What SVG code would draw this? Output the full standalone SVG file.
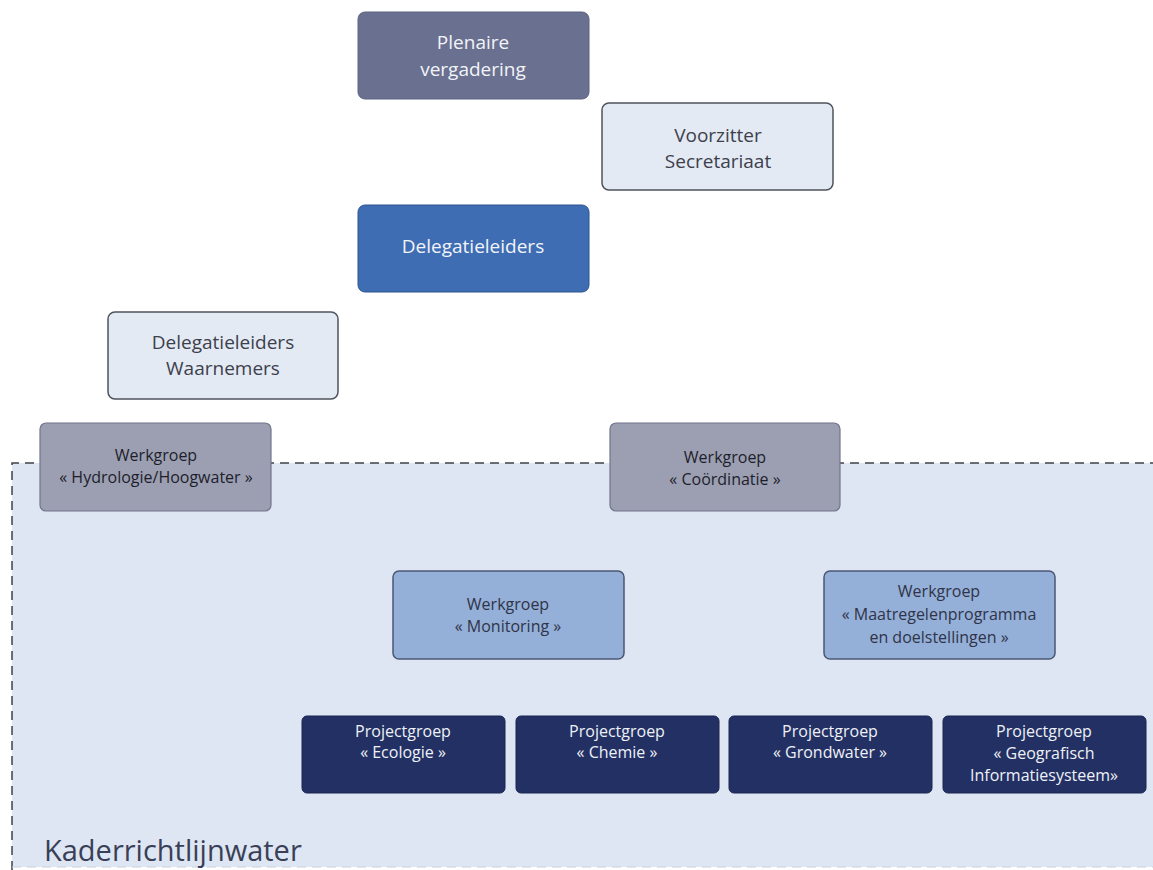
<svg xmlns="http://www.w3.org/2000/svg" width="1153" height="870" viewBox="0 0 1153 870">
<style>
text{font-family:"Open Sans","Liberation Sans",sans-serif;text-anchor:middle}
.plen{fill:#6a7090;stroke:#5d6482;stroke-width:1}
.light{fill:#e3eaf4;stroke:#50535c;stroke-width:1.5}
.del{fill:#3e6db4;stroke:#2d548f;stroke-width:1}
.wgray{fill:#9c9eb2;stroke:#72758a;stroke-width:1.2}
.wblue{fill:#94afd8;stroke:#4b5774;stroke-width:1.5}
.proj{fill:#233063;stroke:#1b2550;stroke-width:1}
.tw{fill:#f2f4f8;font-size:19px}
.td{fill:#3d404c;font-size:19px}
.ts{fill:#1c1f2b;font-size:16px}
.tb{fill:#2f3448;font-size:16px}
.tp{fill:#eef1f7;font-size:16px}
</style>
<rect x="0" y="0" width="1153" height="870" fill="#ffffff"/>
<g id="region">
<rect x="12" y="463" width="1160" height="404" fill="#dde6f2" stroke="none"/>
<path d="M12 870 V463 H1153" fill="none" stroke="#3f4249" stroke-width="1.5" stroke-dasharray="9 6"/>
<path d="M12 867 H1153" fill="none" stroke="#c9d2de" stroke-width="1" stroke-dasharray="9 6"/>
<text x="44" y="861" style="text-anchor:start;font-size:29px;fill:#3a3f58">Kaderrichtlijnwater</text>
</g>
<g id="connectors"></g>
<g id="plenaire">
<rect class="plen" x="358" y="12" width="231" height="87" rx="7"/>
<text class="tw" x="473" y="49">Plenaire</text>
<text class="tw" x="473" y="76">vergadering</text>
</g>
<g id="voorzitter">
<rect class="light" x="602" y="103" width="231" height="87" rx="7"/>
<text class="td" x="718" y="142">Voorzitter</text>
<text class="td" x="718" y="168">Secretariaat</text>
</g>
<g id="delegatieleiders">
<rect class="del" x="358" y="205" width="231" height="87" rx="7"/>
<text class="tw" x="473" y="253">Delegatieleiders</text>
</g>
<g id="waarnemers">
<rect class="light" x="108" y="312" width="230" height="87" rx="7"/>
<text class="td" x="223" y="349">Delegatieleiders</text>
<text class="td" x="223" y="375">Waarnemers</text>
</g>
<g id="hydrologie">
<rect class="wgray" x="40" y="423" width="231" height="88" rx="6"/>
<text class="ts" x="156" y="461">Werkgroep</text>
<text class="ts" x="156" y="483">« Hydrologie/Hoogwater »</text>
</g>
<g id="coordinatie">
<rect class="wgray" x="610" y="423" width="230" height="88" rx="6"/>
<text class="ts" x="725" y="463">Werkgroep</text>
<text class="ts" x="725" y="485">« Coördinatie »</text>
</g>
<g id="monitoring">
<rect class="wblue" x="393" y="571" width="231" height="88" rx="6"/>
<text class="tb" x="508" y="610">Werkgroep</text>
<text class="tb" x="508" y="632">« Monitoring »</text>
</g>
<g id="maatregelen">
<rect class="wblue" x="824" y="571" width="231" height="88" rx="6"/>
<text class="tb" x="939" y="597">Werkgroep</text>
<text class="tb" x="939" y="620">« Maatregelenprogramma</text>
<text class="tb" x="939" y="643">en doelstellingen »</text>
</g>
<g id="ecologie">
<rect class="proj" x="302" y="716" width="203" height="77" rx="5"/>
<text class="tp" x="403" y="737">Projectgroep</text>
<text class="tp" x="403" y="758">« Ecologie »</text>
</g>
<g id="chemie">
<rect class="proj" x="516" y="716" width="203" height="77" rx="5"/>
<text class="tp" x="617" y="737">Projectgroep</text>
<text class="tp" x="617" y="758">« Chemie »</text>
</g>
<g id="grondwater">
<rect class="proj" x="729" y="716" width="203" height="77" rx="5"/>
<text class="tp" x="830" y="737">Projectgroep</text>
<text class="tp" x="830" y="758">« Grondwater »</text>
</g>
<g id="geografisch">
<rect class="proj" x="943" y="716" width="203" height="77" rx="5"/>
<text class="tp" x="1044" y="737">Projectgroep</text>
<text class="tp" x="1044" y="759">« Geografisch</text>
<text class="tp" x="1044" y="781">Informatiesysteem»</text>
</g>
</svg>
